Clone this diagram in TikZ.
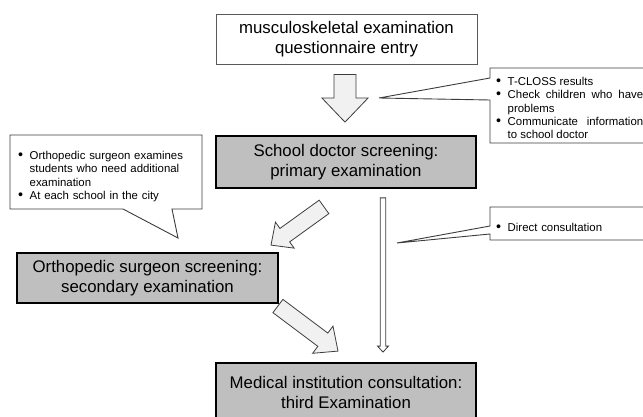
\documentclass[tikz,border=0pt]{standalone}
\usepackage{fontspec}
\setmainfont{Liberation Sans}
\usepackage{tikz}
\usetikzlibrary{calc}
\definecolor{boxgray}{HTML}{BFBFBF}
\definecolor{arrowfill}{HTML}{F1F1F1}
\definecolor{edgegray}{HTML}{3C3C3C}
\newcommand{\bigtext}{\fontsize{16.8}{20}\selectfont}
\newcommand{\notetext}{\fontsize{11.4}{13.3}\selectfont}
\newcommand{\bulitem}{\par\noindent\hangindent=11.5pt\hangafter=1\makebox[11.5pt][l]{\smash{\raisebox{0.2pt}{\scalebox{1.25}{\textbullet}}}}}
\newcommand{\blockarrow}[6][fatarrow]{%
  \coordinate (ba-h) at ($(#3)!#6!(#2)$);
  \draw[#1] ($(#2)!#4!90:(#3)$) -- ($(ba-h)!#4!90:(#3)$) -- ($(ba-h)!#5!90:(#3)$) -- (#3)
    -- ($(ba-h)!#5!-90:(#3)$) -- ($(ba-h)!#4!-90:(#3)$) -- ($(#2)!#4!-90:(#3)$) -- cycle;}

\begin{document}
\begin{tikzpicture}[x=1pt, y=-1pt,
    mainbox/.style={align=center, font=\bigtext, minimum width=261pt, minimum height=50pt, inner sep=0pt},
    graybox/.style={mainbox, fill=boxgray, draw=black, line width=1.8pt},
    fatarrow/.style={fill=arrowfill, draw=edgegray, line width=0.8pt, line join=miter},
    thinarrow/.style={fill=white, draw=edgegray, line width=0.8pt, line join=miter},
    callout/.style={fill=white, draw=edgegray, line width=0.9pt, line join=miter},
    note/.style={font=\notetext, inner sep=0pt, anchor=north west}]
    \useasboundingbox (0,0) rectangle (643,417);
    \clip (0,0) rectangle (643,417);

    \node[mainbox, draw=edgegray!85, line width=0.9pt] (entry) at (346.5,39) {musculoskeletal examination\\questionnaire entry};
    \node[graybox, minimum width=260pt, minimum height=52pt] (school) at (346,162) {School doctor screening:\\primary examination};
    \node[graybox] (ortho) at (147.5,278) {Orthopedic surgeon screening:\\secondary examination};
    \node[graybox, minimum width=260pt, minimum height=58pt] (medical) at (346,392) {Medical institution consultation:\\third Examination};

    \coordinate (down-s) at ([xshift=-1.5pt,yshift=-10pt]entry.south);
    \coordinate (down-e) at ([xshift=-1pt,yshift=13pt]school.north);
    \coordinate (left-s) at ($(school.south)+(-22,18)$);
    \coordinate (left-e) at ($(ortho.north)+(123.5,-7)$);
    \coordinate (right-s) at ($(ortho.east)+(-1,28)$);
    \coordinate (right-e) at ($(medical.north)+(-8,-11)$);
    \coordinate (direct-s) at ([xshift=37pt,yshift=-9pt]school.south);
    \coordinate (direct-e) at ([xshift=37pt,yshift=10pt]medical.north);

    \blockarrow{down-s}{down-e}{11pt}{23pt}{24pt}
    \blockarrow{left-s}{left-e}{8.3pt}{16pt}{17pt}
    \blockarrow{right-s}{right-e}{8.3pt}{17pt}{19pt}
    \blockarrow[thinarrow]{direct-s}{direct-e}{2.8pt}{5.5pt}{6pt}

    \draw[callout] (490,68) -- (650,68) -- (650,143) -- (490,143) -- (490,100) -- (379,98) -- (490,78) -- cycle;
    \node[note, text width=147pt, align=justify] (tcloss) at (496,72) {\bulitem T-CLOSS results\bulitem Check children who have problems\bulitem Communicate information to school doctor\par};

    \draw[callout] (10,135) -- (202,135) -- (202,209) -- (172,209) -- (178,238) -- (123,209) -- (10,209) -- cycle;
    \node[note, text width=170pt, align=left] (visit) at (18,146) {\bulitem Orthopedic surgeon examines students who need additional examination\bulitem At each school in the city\par};

    \draw[callout] (490,207) -- (650,207) -- (650,240) -- (490,240) -- (490,234) -- (397,243) -- (490,226) -- cycle;
    \node[note, text width=147pt, align=left] (direct) at (496,218) {\bulitem Direct consultation\par};
\end{tikzpicture}
\end{document}
